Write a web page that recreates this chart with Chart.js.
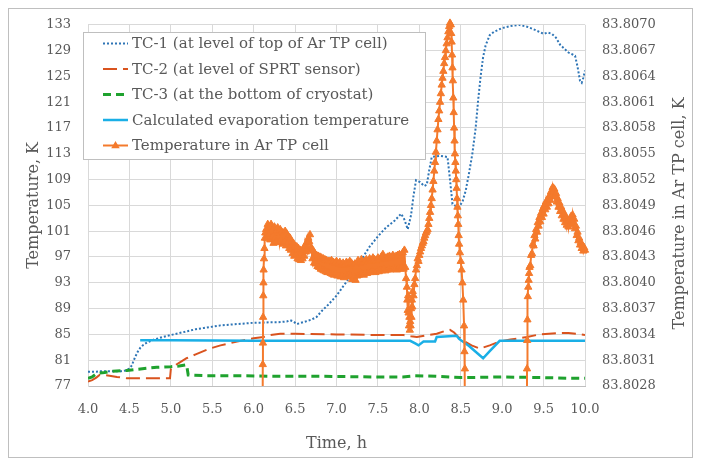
<!DOCTYPE html>
<html>
<head>
<meta charset="utf-8">
<script src="https://cdn.jsdelivr.net/npm/chart.js@4/dist/chart.umd.min.js"></script>
<style>
html,body{margin:0;padding:0;background:#fff;}
canvas{display:block;}
</style>
</head>
<body>
<canvas id="c" width="701" height="467"></canvas>
<script>
// ---------- DATA ----------
const xTicks = [4.0,4.5,5.0,5.5,6.0,6.5,7.0,7.5,8.0,8.5,9.0,9.5,10.0];
const leftTicks = [77,81,85,89,93,97,101,105,109,113,117,121,125,129,133];
const rightTicks = [83.8028,83.8031,83.8034,83.8037,83.8040,83.8043,83.8046,83.8049,83.8052,83.8055,83.8058,83.8061,83.8064,83.8067,83.8070];

const seriesLabels = [
  "TC-1 (at level of top of Ar TP cell)",
  "TC-2 (at level of SPRT sensor)",
  "TC-3 (at the bottom of cryostat)",
  "Calculated evaporation temperature",
  "Temperature in Ar TP cell"
];

const tc1Time = [4.00,4.10,4.15,4.20,4.30,4.40,4.45,4.50,4.53,4.55,4.57,4.60,4.63,4.67,4.72,4.80,4.90,5.00,5.10,5.20,5.30,5.40,5.50,5.60,5.70,5.80,5.90,6.00,6.10,6.20,6.30,6.40,6.44,6.48,6.52,6.60,6.70,6.76,6.82,6.90,7.00,7.10,7.20,7.30,7.40,7.50,7.60,7.70,7.78,7.82,7.86,7.90,7.93,7.96,8.01,8.06,8.09,8.12,8.15,8.25,8.34,8.37,8.40,8.47,8.52,8.56,8.60,8.64,8.68,8.71,8.74,8.77,8.80,8.85,8.90,9.00,9.10,9.20,9.30,9.38,9.45,9.50,9.55,9.60,9.65,9.70,9.75,9.80,9.85,9.88,9.91,9.94,9.96,9.98,10.00];
const tc1Temp = [79.2,79.2,79.3,79.3,79.3,79.3,79.4,79.7,80.2,80.9,81.5,82.3,82.9,83.4,83.8,84.2,84.6,84.9,85.2,85.5,85.8,86.0,86.2,86.4,86.5,86.6,86.7,86.8,86.8,86.9,86.9,87.0,87.2,87.0,86.6,86.9,87.3,87.7,88.6,89.6,91.0,92.8,94.6,96.6,98.6,100.2,101.6,102.6,103.7,102.8,101.3,103.5,106.5,108.9,108.6,108.0,108.2,110.5,112.5,112.7,112.5,109.0,105.2,104.7,105.5,107.3,110.0,113.0,117.0,121.3,125.0,128.0,129.8,131.4,131.9,132.5,132.8,133.0,132.7,132.3,131.9,131.6,131.8,131.6,131.0,129.9,129.3,128.7,128.4,128.2,126.5,124.3,124.0,124.8,125.9];

const tc2Time = [4.00,4.05,4.10,4.14,4.20,4.26,4.35,4.47,4.60,4.80,4.99,5.00,5.05,5.10,5.19,5.30,5.47,5.60,5.80,6.00,6.12,6.20,6.32,6.50,7.00,7.50,7.81,7.90,7.97,8.10,8.21,8.30,8.37,8.42,8.47,8.55,8.63,8.73,8.85,8.97,9.10,9.30,9.45,9.66,9.80,9.90,10.00];
const tc2Temp = [77.7,77.9,78.3,78.7,78.7,78.6,78.4,78.2,78.2,78.2,78.2,79.6,80.2,80.6,81.3,81.9,82.8,83.3,83.9,84.4,84.6,84.9,85.1,85.1,85.0,84.9,84.9,84.7,84.6,84.9,85.1,85.5,85.7,85.3,84.6,83.9,83.3,82.8,83.3,83.9,84.2,84.6,85.0,85.2,85.2,85.1,84.9];

const tc3Time = [4.00,4.05,4.10,4.14,4.20,4.30,4.47,4.60,4.83,5.00,5.10,5.19,5.21,5.40,5.80,6.32,6.80,7.50,7.80,7.95,8.20,8.50,9.00,9.50,9.80,10.00];
const tc3Temp = [78.2,78.4,78.9,79.0,79.1,79.3,79.4,79.6,79.9,80.0,80.1,80.3,78.7,78.6,78.6,78.5,78.5,78.4,78.4,78.6,78.5,78.3,78.4,78.3,78.2,78.2];

const evapTime = [4.63,5.00,6.00,7.00,7.89,7.95,7.99,8.05,8.19,8.21,8.45,8.48,8.60,8.77,8.85,8.97,9.20,10.00];
const evapTemp = [84.1,84.1,84.0,84.0,84.0,83.6,83.3,83.9,83.9,84.6,84.8,84.3,83.2,81.3,82.4,84.0,84.0,84.0];

const arTime = [
 6.100,6.110,6.112,6.114,6.116,6.118,6.120,6.125,6.130,6.135,6.140,6.150,6.160,6.170,6.180,
 6.19,6.20,6.21,6.22,6.23,6.24,6.25,6.26,6.27,6.28,6.29,6.30,6.31,6.32,6.33,6.34,6.35,6.36,6.37,6.38,6.39,6.40,6.41,6.42,6.43,6.44,6.45,6.46,6.47,6.48,6.49,6.50,
 6.51,6.52,6.53,6.54,6.55,6.56,6.57,6.58,6.59,6.60,
 6.61,6.62,6.63,6.64,6.65,6.66,6.67,6.68,6.69,6.70,
 6.71,6.72,6.73,6.74,6.75,6.76,6.77,6.78,6.79,6.80,
 6.81,6.82,6.83,6.84,6.85,6.86,6.87,6.88,6.89,6.90,
 6.91,6.92,6.93,6.94,6.95,6.96,6.97,6.98,6.99,7.00,
 7.01,7.02,7.03,7.04,7.05,7.06,7.07,7.08,7.09,7.10,
 7.11,7.12,7.13,7.14,7.15,7.16,7.17,7.18,7.19,7.20,
 7.21,7.22,7.23,7.24,7.25,7.26,7.27,7.28,7.29,7.30,
 7.31,7.32,7.33,7.34,7.35,7.36,7.37,7.38,7.39,7.40,
 7.41,7.42,7.43,7.44,7.45,7.46,7.47,7.48,7.49,7.50,
 7.51,7.52,7.53,7.54,7.55,7.56,7.57,7.58,7.59,7.60,
 7.61,7.62,7.63,7.64,7.65,7.66,7.67,7.68,7.69,7.70,
 7.71,7.72,7.73,7.74,7.75,7.76,7.77,7.78,7.79,7.80,
 7.81,7.82,7.83,
 7.840,7.850,7.855,7.860,7.865,7.870,7.875,7.880,7.885,7.890,7.895,7.900,7.905,7.910,7.915,7.920,7.930,7.940,7.950,7.960,7.970,7.980,7.990,8.000,
 8.01,8.02,8.03,8.04,8.05,8.06,8.07,8.08,8.09,8.10,
 8.11,8.12,8.13,8.14,8.15,8.16,8.17,8.18,8.19,8.20,
 8.21,8.22,8.23,8.24,8.25,8.26,8.27,8.28,8.29,8.30,
 8.31,8.32,8.33,8.34,8.35,8.36,8.37,
 8.380,8.385,8.390,8.395,8.400,8.405,8.410,8.415,8.420,8.425,8.430,8.435,8.440,8.445,8.450,8.455,8.460,8.465,8.470,8.475,8.480,8.490,8.500,8.510,8.520,8.530,8.540,8.545,8.550,8.560,
 9.290,9.300,9.302,9.305,9.310,9.315,9.320,9.325,9.330,
 9.34,9.35,9.36,9.37,9.38,9.39,9.40,
 9.41,9.42,9.43,9.44,9.45,9.46,9.47,9.48,9.49,9.50,
 9.51,9.52,9.53,9.54,9.55,9.56,9.57,9.58,9.59,9.60,
 9.61,9.62,9.63,9.64,9.65,9.66,9.67,9.68,9.69,9.70,
 9.71,9.72,9.73,9.74,9.75,9.76,9.77,9.78,9.79,9.80,
 9.81,9.82,9.83,9.84,9.85,9.86,9.87,9.88,9.89,9.90,
 9.91,9.92,9.93,9.94,9.95,9.96,9.97,9.98,9.99,10.00
];
const arTemp = [
 83.7990,83.80305,83.80330,83.80360,83.80385,83.80400,83.80415,83.80428,83.80440,83.80452,83.80458,83.80462,83.80452,83.80468,83.80456,
 83.80464,83.80450,83.80468,83.80453,83.80462,83.80446,83.80465,83.80452,83.80460,83.80448,83.80464,83.80453,83.80447,83.80462,83.80450,83.80459,83.80445,83.80458,83.80448,83.80460,83.80443,83.80457,83.80446,83.80454,83.80440,83.80452,83.80438,83.80448,83.80434,83.80446,83.80431,83.80442,
 83.80432,83.80442,83.80428,83.80440,83.80427,83.80438,83.80426,83.80437,83.80428,83.80440,
 83.80431,83.80443,83.80436,83.80447,83.80440,83.80452,83.80448,83.80456,83.80442,83.80438,
 83.80428,83.80437,83.80423,83.80434,83.80422,83.80432,83.80419,83.80431,83.80418,83.80430,
 83.80416,83.80429,83.80415,83.80428,83.80414,83.80427,83.80413,83.80426,83.80412,83.80425,
 83.80412,83.80425,83.80411,83.80426,83.80410,83.80424,83.80409,83.80423,83.80410,83.80425,
 83.80408,83.80422,83.80409,83.80424,83.80407,83.80421,83.80408,83.80423,83.80406,83.80421,
 83.80409,83.80424,83.80407,83.80422,83.80410,83.80425,83.80408,83.80423,83.80404,83.80420,
 83.80407,83.80422,83.80403,83.80419,83.80408,83.80426,83.80409,83.80423,83.80410,83.80427,
 83.80411,83.80424,83.80409,83.80425,83.80412,83.80427,83.80411,83.80425,83.80413,83.80428,
 83.80412,83.80426,83.80414,83.80429,83.80413,83.80427,83.80412,83.80426,83.80414,83.80429,
 83.80413,83.80427,83.80415,83.80430,83.80414,83.80433,83.80416,83.80428,83.80414,83.80429,
 83.80415,83.80430,83.80416,83.80431,83.80415,83.80429,83.80416,83.80432,83.80417,83.80430,
 83.80416,83.80431,83.80415,83.80432,83.80417,83.80433,83.80416,83.80431,83.80418,83.80435,
 83.80416,83.80438,83.80418,
 83.80405,83.80395,83.80380,83.80368,83.80385,83.80365,83.80350,83.80360,83.80345,83.80355,83.80350,83.80370,83.80360,83.80380,83.80372,83.80390,83.80385,83.80398,83.80405,83.80415,83.80420,83.80428,83.80425,83.80432,
 83.80436,83.80440,83.80443,83.80446,83.80448,83.80452,83.80455,83.80458,83.80460,83.80462,
 83.80468,83.80475,83.80482,83.80490,83.80498,83.80508,83.80518,83.80530,83.80540,83.80552,
 83.80565,83.80578,83.80590,83.80600,83.80610,83.80620,83.80630,83.80638,83.80646,83.80655,
 83.80662,83.80670,83.80678,83.80685,83.80692,83.80698,83.80702,
 83.80700,83.80690,83.80680,83.80665,83.80650,83.80635,83.80615,83.80598,83.80580,83.80565,83.80550,83.80540,83.80530,83.80520,83.80510,83.80498,83.80488,83.80478,83.80468,83.80455,83.80445,83.80435,83.80425,83.80415,83.80400,83.80380,83.80350,83.80320,83.80300,83.7990,
 83.7990,83.80300,83.80333,83.80357,83.80384,83.80395,83.80403,83.80411,83.80418,
 83.80420,83.80432,83.80434,83.80445,83.80443,83.80455,83.80451,
 83.80462,83.80459,83.80470,83.80466,83.80476,83.80471,83.80481,83.80476,83.80486,83.80480,
 83.80490,83.80485,83.80494,83.80488,83.80497,83.80492,83.80501,83.80496,83.80506,83.80502,
 83.80511,83.80506,83.80509,83.80500,83.80504,83.80494,83.80498,83.80488,83.80493,83.80483,
 83.80488,83.80478,83.80484,83.80474,83.80480,83.80470,83.80476,83.80467,83.80473,83.80465,
 83.80472,83.80468,83.80477,83.80472,83.80479,83.80470,83.80474,83.80463,83.80466,83.80455,
 83.80459,83.80449,83.80452,83.80444,83.80447,83.80440,83.80443,83.80437,83.80441,83.80438
];

// ---------- STYLE ----------
const FONT = "'DejaVu Serif', 'Liberation Serif', serif";
const TEXT = '#595959';
const GRID = '#d9d9d9';

function pts(xs, ys){ return xs.map((x,i)=>({x:x, y:ys[i]})); }

const frameAndTitles = {
  id:'frameAndTitles',
  beforeDraw(chart){
    const ctx = chart.ctx;
    ctx.save();
    ctx.fillStyle = '#fff';
    ctx.fillRect(0,0,chart.width,chart.height);
    ctx.strokeStyle = '#bfbfbf';
    ctx.lineWidth = 1;
    ctx.strokeRect(8.5,8.5,684,449);
    ctx.restore();
  },
  afterDraw(chart){
    const ctx = chart.ctx;
    const a = chart.chartArea;
    ctx.save();
    ctx.fillStyle = TEXT;
    ctx.font = "16px " + FONT;
    ctx.textAlign = 'center';
    ctx.textBaseline = 'middle';
    ctx.fillText('Time, h', (a.left+a.right)/2, 444);
    ctx.save();
    ctx.translate(34, (a.top+a.bottom)/2);
    ctx.rotate(-Math.PI/2);
    ctx.fillText('Temperature, K', 0, 0);
    ctx.restore();
    ctx.save();
    ctx.translate(680, (a.top+a.bottom)/2 + 8);
    ctx.rotate(-Math.PI/2);
    ctx.fillText('Temperature in Ar TP cell, K', 0, 0);
    ctx.restore();

    // legend box
    ctx.fillStyle = '#fff';
    ctx.fillRect(83,32,343,128);
    ctx.strokeStyle = '#bfbfbf';
    ctx.lineWidth = 1;
    ctx.strokeRect(83.5,32.5,342,127);
    chart.data.datasets.forEach((ds,i)=>{
      const y = 43.5 + i*25.5;
      ctx.save();
      ctx.beginPath();
      ctx.setLineDash(ds.borderDash || []);
      ctx.strokeStyle = ds.borderColor;
      ctx.lineWidth = ds.borderWidth;
      ctx.moveTo(103,y); ctx.lineTo(128,y);
      ctx.stroke();
      ctx.setLineDash([]);
      if (ds.pointStyle === 'triangle'){
        const r = 4.5;
        ctx.beginPath();
        ctx.moveTo(115.5, y - r);
        ctx.lineTo(115.5 + r*0.95, y + r*0.6);
        ctx.lineTo(115.5 - r*0.95, y + r*0.6);
        ctx.closePath();
        ctx.fillStyle = ds.pointBackgroundColor;
        ctx.fill();
      }
      ctx.restore();
      ctx.fillStyle = TEXT;
      ctx.font = "15px " + FONT;
      ctx.textAlign = 'left';
      ctx.textBaseline = 'middle';
      ctx.fillText(ds.label, 132, y+1);
    });
    ctx.restore();
  }
};

new Chart(document.getElementById('c'), {
  type: 'line',
  data: {
    datasets: [
      { label: seriesLabels[0], data: pts(tc1Time, tc1Temp), yAxisID:'y',
        borderColor:'#2E75B6', borderWidth:2, borderDash:[2,2], pointRadius:0, tension:0, order:5 },
      { label: seriesLabels[1], data: pts(tc2Time, tc2Temp), yAxisID:'y',
        borderColor:'#D9531E', borderWidth:2, borderDash:[14,6], pointRadius:0, tension:0, order:4 },
      { label: seriesLabels[2], data: pts(tc3Time, tc3Temp), yAxisID:'y',
        borderColor:'#1FA22E', borderWidth:3, borderDash:[8,5], pointRadius:0, tension:0, order:3 },
      { label: seriesLabels[3], data: pts(evapTime, evapTemp), yAxisID:'y',
        borderColor:'#1AAFE6', borderWidth:2.5, pointRadius:0, tension:0, order:2 },
      { label: seriesLabels[4], data: pts(arTime, arTemp), yAxisID:'y1',
        borderColor:'#F47A2C', borderWidth:2, pointStyle:'triangle', pointRadius:4.2,
        pointBackgroundColor:'#F47A2C', pointBorderColor:'#F47A2C', pointBorderWidth:1,
        tension:0, order:1, clip:{left:6, top:8, right:6, bottom:0} }
    ]
  },
  options: {
    responsive:false,
    animation:false,
    devicePixelRatio:1,
    layout:{ padding:{ top:24, left:0, right:0, bottom:0 } },
    plugins:{ legend:{display:false}, tooltip:{enabled:false} },
    scales:{
      x:{
        type:'linear', min:4, max:10,
        afterBuildTicks: s => { s.ticks = xTicks.map(v=>({value:v})); },
        afterFit: s => { s.height = 81; },
        ticks:{ callback: v => Number(v).toFixed(1), font:{family:FONT, size:13}, color:TEXT, padding:16, maxRotation:0, autoSkip:false },
        grid:{ color:GRID, drawTicks:false },
        border:{ color:'#bfbfbf' }
      },
      y:{
        position:'left', min:77, max:133,
        afterBuildTicks: s => { s.ticks = leftTicks.map(v=>({value:v})); },
        afterFit: s => { s.width = 88; },
        ticks:{ font:{family:FONT, size:13}, color:TEXT, padding:17, autoSkip:false },
        grid:{ color:GRID, drawTicks:false },
        border:{ color:GRID }
      },
      y1:{
        position:'right', min:83.8028, max:83.8070,
        afterBuildTicks: s => { s.ticks = rightTicks.map(v=>({value:v})); },
        afterFit: s => { s.width = 116; },
        ticks:{ callback: v => Number(v).toFixed(4), font:{family:FONT, size:13}, color:TEXT, padding:17, autoSkip:false },
        grid:{ drawOnChartArea:false, drawTicks:false },
        border:{ display:false }
      }
    }
  },
  plugins:[frameAndTitles]
});
</script>
</body>
</html>
